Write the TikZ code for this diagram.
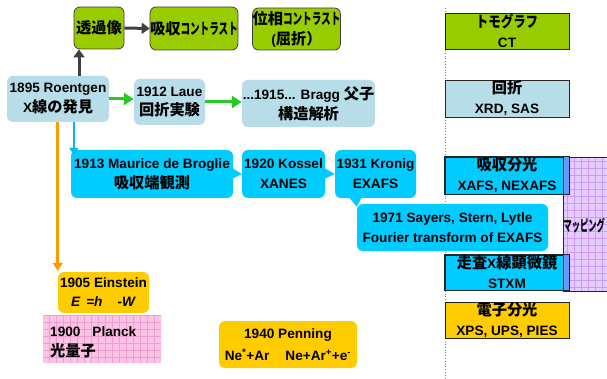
\documentclass[tikz,border=0pt]{standalone}
\usepackage{fontspec}
\setmainfont{Liberation Sans}
\newfontfamily\jp{Noto Sans CJK JP}[Scale=1.12]
\usepackage{graphicx}
\usetikzlibrary{arrows.meta,calc}
\definecolor{lgreen}{HTML}{99CC00}
\definecolor{lblue}{HTML}{B7DEE8}
\definecolor{cyanc}{HTML}{00CCFF}
\definecolor{gold}{HTML}{FFCC00}
\definecolor{lav}{HTML}{E5CCFF}
\definecolor{lavline}{HTML}{CC99FF}
\definecolor{pinkf}{HTML}{FBC4E6}
\definecolor{pinkline}{HTML}{F29CD0}
\definecolor{stripb}{HTML}{6699FF}
\definecolor{arrgreen}{HTML}{22CC22}
\definecolor{arrorange}{HTML}{FF9900}
\definecolor{arrblue}{HTML}{00BBEE}
\definecolor{darkg}{HTML}{404040}
\newcommand\jt[1]{{\jp #1}}
\newcommand\nar[2]{\scalebox{#1}[1]{\jp #2}}
\begin{document}
\begin{tikzpicture}[x=1pt,y=-1pt,
 every node/.style={font=\fontsize{13.6}{20}\selectfont\bfseries, inner sep=0pt, align=center},
 rbox/.style={rounded corners=6pt},
 gbox/.style={rbox, fill=lgreen, draw=darkg, line width=0.8pt},
 lbbox/.style={rbox, fill=lblue},
 cbox/.style={rbox, fill=cyanc},
 ybox/.style={rbox, fill=gold},
 sbox/.style={draw=black!85, line width=0.8pt},
 darr/.style={draw=darkg, line width=3pt, -{Triangle[length=8pt,width=11pt]}},
 garr/.style={draw=arrgreen, line width=3pt, -{Triangle[length=10pt,width=12pt]}},
 oarr/.style={draw=arrorange, line width=3pt, -{Triangle[length=8pt,width=10pt]}},
 barr/.style={draw=arrblue, line width=2.5pt, -{Triangle[length=7pt,width=9pt]}},
 tail/.style={fill=cyanc}
]
\useasboundingbox (0,0) rectangle (607,379);
\fill[white] (0,0) rectangle (607,379);

% dotted separator
\draw[dotted, gray, line width=0.8pt] (445,8) -- (445,379);

% mapping region
\begin{scope}
  \clip (563,157) rectangle (607,291);
  \fill[lav] (563,157) rectangle (607,291);
  \draw[lavline, line width=0.5pt, step=7pt] (563,157) grid (607,291);
\end{scope}
\draw[black!85, line width=0.8pt] (608,157) -- (563,157) -- (563,291) -- (608,291);
\node[anchor=west] (mapt) at (563.5,226) {\nar{0.54}{マッピング}};

% top green boxes
\node[gbox, minimum width=50pt, minimum height=42pt] (tk) at (99,28) {\jt{透過像}};
\node[gbox, minimum width=86pt, minimum height=43pt] (kyu) at (194,28.5) {\jt{吸収}\nar{0.63}{コントラスト}};
\node[gbox, minimum width=87pt, minimum height=42pt] (iso) at (296.5,29) {\jt{位相}\nar{0.63}{コントラスト}\\(\jt{屈折）}};

% light blue row
\node[lbbox, minimum width=102pt, minimum height=46pt] (roe) at (58,99) {1895 Roentgen\\X\jt{線の発見}};
\node[lbbox, minimum width=71pt, minimum height=46pt] (laue) at (169.5,102) {1912 Laue\\\jt{回折実験}};
\node[lbbox, minimum width=133pt, minimum height=47pt] (bragg) at (308.5,103.5) {...1915... Bragg \jt{父子}\\\jt{構造解析}};

% cyan row
\node[cbox, minimum width=162pt, minimum height=48pt] (brog) at (152,174) {1913 Maurice de Broglie\\\jt{吸収端観測}};
\node[cbox, minimum width=83pt, minimum height=48pt] (kos) at (283.5,174) {1920 Kossel\\XANES};
\node[cbox, minimum width=81pt, minimum height=48pt] (kro) at (375.5,174) {1931 Kronig\\EXAFS};
\node[cbox, minimum width=191pt, minimum height=47pt] (say) at (452.5,227.5) {1971 Sayers, Stern, Lytle\\Fourier transform of EXAFS};

% callout tails
\fill[tail] ($(brog.east)+(-1,-6)$) -- (kos.west) -- ($(brog.east)+(-1,5)$) -- cycle;
\fill[tail] ($(kos.east)+(-1,-6)$) -- (kro.west) -- ($(kos.east)+(-1,5)$) -- cycle;
\fill[tail] ($(kro.south west)+(14,-1)$) -- ($(say.north west)+(0,3)$) -- ($(kro.south west)+(27,-1)$) -- cycle;

% bottom left
\node[ybox, minimum width=91pt, minimum height=41pt] (ein) at (103.5,292.5) {1905 Einstein\\[-1pt]\textit{E\ \,=h\hspace{15pt}-W}};
\begin{scope}
  \clip (43,315) rectangle (161,363);
  \fill[pinkf] (43,315) rectangle (161,363);
  \draw[pinkline, line width=0.5pt, step=7pt] (43,315) grid (161,363);
\end{scope}
\node[anchor=west, align=left] (pla) at (50,342) {1900\hspace{12pt}Planck\\\jt{光量子}};
\node[ybox, minimum width=138pt, minimum height=47pt] (pen) at (288,344.5) {1940 Penning\\[2pt]Ne\textsuperscript{*}+Ar\hspace{16pt}Ne+Ar\textsuperscript{+}+e\textsuperscript{-}};

% right column boxes
\node[sbox, fill=lgreen, minimum width=124pt, minimum height=36pt] (ct) at (507,31) {\nar{0.82}{トモグラフ}\\CT};
\node[sbox, fill=lblue, minimum width=124pt, minimum height=37pt] (xrd) at (507,98.5) {\jt{回折}\\XRD, SAS};
\node[sbox, fill=cyanc, minimum width=124pt, minimum height=37pt] (xafs) at (507,175.5) {\jt{吸収分光}\\XAFS, NEXAFS};
\fill[stripb] ($(xafs.north east)+(-6,0)$) rectangle (xafs.south east);
\draw[black!85, line width=0.8pt] (xafs.north west) rectangle (xafs.south east);
\draw[black!85, line width=0.8pt] ($(xafs.north east)+(-6,0)$) -- ($(xafs.south east)+(-6,0)$);
\node[sbox, fill=cyanc, minimum width=124pt, minimum height=35pt] (stxm) at (507,272.5) {\jt{走査}X\jt{線顕微鏡}\\STXM};
\fill[stripb] ($(stxm.north east)+(-6,0)$) rectangle (stxm.south east);
\draw[black!85, line width=0.8pt] (stxm.north west) rectangle (stxm.south east);
\draw[black!85, line width=0.8pt] ($(stxm.north east)+(-6,0)$) -- ($(stxm.south east)+(-6,0)$);
\node[sbox, fill=gold, minimum width=124pt, minimum height=36pt] (eps) at (507,320) {\jt{電子分光}\\XPS, UPS, PIES};

% arrows
\coordinate (up0) at ($(roe.north)+(21,0)$);
\draw[darr] (up0) -- (up0 |- tk.south);
\draw[darr] (tk.east) -- (kyu.west);
\draw[garr] (roe.east) -- (laue.west |- roe.east);
\draw[garr] (laue.east) -- (bragg.west |- laue.east);
\draw[oarr] (roe.south -| ein.west) -- ($(ein.north west)+(0,-1)$);
\coordinate (bq) at ($(brog.north west)+(3,5)$);
\draw[barr] (roe.south -| bq) -- (bq);
\end{tikzpicture}
\end{document}
